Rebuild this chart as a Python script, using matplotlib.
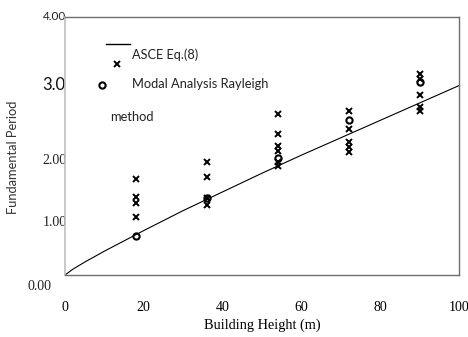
import matplotlib
matplotlib.use("Agg")
import matplotlib.pyplot as plt

# Building heights (m) of the studied frames
heights = [18, 36, 54, 72, 90]

# Modal analysis periods (s), several frames per height
modal_18 = [1.49, 1.21, 1.11, 0.90]
modal_36 = [1.75, 1.52, 1.20, 1.09]
modal_54 = [2.50, 2.19, 2.00, 1.93, 1.76, 1.69]
modal_72 = [2.55, 2.27, 2.06, 1.98, 1.91]
modal_90 = [3.12, 3.04, 2.80, 2.60, 2.55]
modal_sets = [modal_18, modal_36, modal_54, modal_72, modal_90]

# Rayleigh method periods (s)
rayleigh = [0.60, 1.20, 1.81, 2.40, 3.00]

# ASCE Eq.(8) curve
asce_h = [0, 2, 5, 10, 20, 30, 40, 50, 60, 70, 80, 90, 100]
asce_t = [0, 0.09, 0.20, 0.37, 0.69, 1.00, 1.29, 1.58, 1.86, 2.13, 2.40, 2.67, 2.94]

x_ticks = [0, 20, 40, 60, 80, 100]

W, H = 468, 337
fig = plt.figure(figsize=(W / 100, H / 100), dpi=100)
fig.patch.set_facecolor("white")

L, R, B, T = 65, 459, 275, 17.3
ax = fig.add_axes([L / W, 1 - B / H, (R - L) / W, (B - T) / H])
ax.set_xlim(0, 100)
ax.set_ylim(0, 4)

ax.plot(asce_h, asce_t, color="black", lw=0.8, zorder=2)
for h, vals in zip(heights, modal_sets):
    ax.plot([h] * len(vals), vals, linestyle="none", marker="x", ms=4,
            mew=1.4, color="black", zorder=3)
ax.plot(heights, rayleigh, linestyle="none", marker="o", ms=4.5, mew=1.5,
        mfc="none", mec="black", zorder=4)

for side in ["top", "right", "bottom"]:
    ax.spines[side].set_color("#6e6e6e")
    ax.spines[side].set_linewidth(1.0)
ax.spines["left"].set_color("#bdbdbd")
ax.spines["left"].set_linewidth(1.2)

ax.set_yticks([])
ax.set_xticks(x_ticks)
ax.set_xticklabels([str(v) for v in x_ticks], family="Liberation Serif",
                   fontsize=10)
ax.tick_params(axis="x", length=0, pad=19)
ax.set_xlabel("Building Height (m)", family="Liberation Serif", fontsize=10.3,
              labelpad=3)


def px(x, y):
    return x / W, 1 - y / H


# y-axis value labels (drawn beneath the axes so the plot area hides overflow)
fig.text(*px(42.5, 17), "4.00", family="Lato", fontsize=8.5, color="#222222",
         ha="left", va="center", zorder=-1)
fig.text(*px(42.5, 85), "3.00", family="Lato", fontsize=12, color="#111111",
         ha="left", va="center", zorder=-1)
fig.text(*px(42.5, 160), "2.00", family="Liberation Serif", fontsize=10,
         color="#222222", ha="left", va="center", zorder=-1)
fig.text(*px(42.5, 222), "1.00", family="Liberation Serif", fontsize=10,
         color="#222222", ha="left", va="center", zorder=-1)
fig.text(*px(28, 287), "0.00", family="Liberation Serif", fontsize=10,
         color="#222222", ha="left", va="center", zorder=-1)

fig.text(*px(13, 157), "Fundamental Period", family="Lato", fontsize=9.3,
         color="#333333", rotation=90, ha="center", va="center")

# Legend entries
lx = lambda p: (p - L) / (R - L)
ly = lambda p: (B - p) / (B - T)
ax.plot([lx(106), lx(130)], [ly(44), ly(44)], color="black", lw=1.0,
        transform=ax.transAxes, clip_on=False)
ax.plot([lx(117)], [ly(63.5)], marker="x", ms=4, mew=1.4, color="black",
        transform=ax.transAxes, clip_on=False)
ax.plot([lx(102)], [ly(85)], marker="o", ms=4.5, mew=1.5, mfc="none",
        mec="black", transform=ax.transAxes, clip_on=False)
ax.text(lx(131.5), ly(55), "ASCE Eq.(8)", family="Lato", fontsize=9.2,
        color="#222222", ha="left", va="center", transform=ax.transAxes)
ax.text(lx(131.5), ly(83.5), "Modal Analysis Rayleigh", family="Lato",
        fontsize=9.3, color="#222222", ha="left", va="center",
        transform=ax.transAxes)
ax.text(lx(110), ly(117), "method", family="Lato", fontsize=9.3,
        color="#222222", ha="left", va="center", transform=ax.transAxes)

fig.savefig("out.png", dpi=100, facecolor="white")
